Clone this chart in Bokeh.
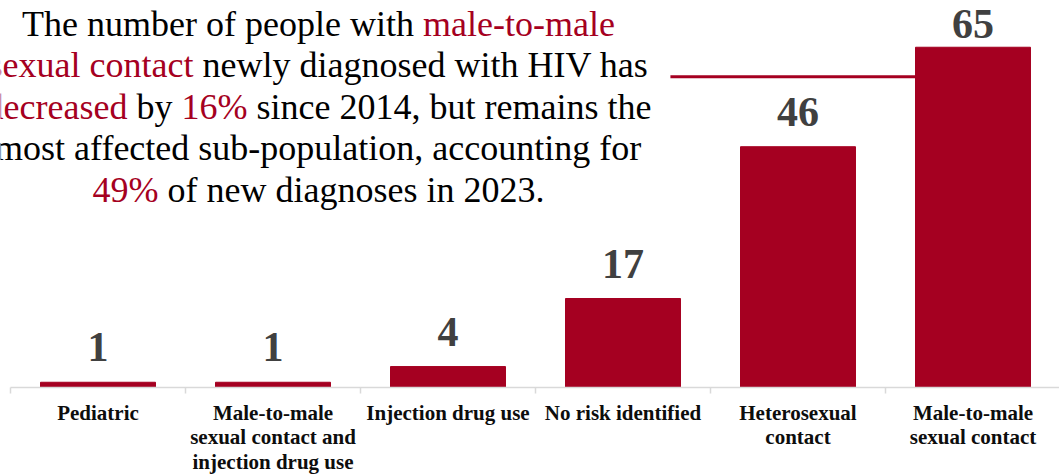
import numpy as np
from bokeh.plotting import figure
from bokeh.models import Range1d, FixedTicker, ColumnDataSource, LabelSet
from bokeh.core.properties import value
from bokeh.embed import file_html
from bokeh.resources import INLINE

# ---------------- data ----------------
categories = [
    "Pediatric",
    "Male-to-male\nsexual contact and\ninjection drug use",
    "Injection drug use",
    "No risk identified",
    "Heterosexual\ncontact",
    "Male-to-male\nsexual contact",
]
values = [1, 1, 4, 17, 46, 65]
value_labels = ["1", "1", "4", "17", "46", "65"]
callout_level = 59.36  # level of the callout line from the text to the last bar

RED = "#A50021"
BLACK = "#000000"
headline = [
    [("The number of people with ", BLACK), ("male-to-male", RED)],
    [("sexual contact", RED), (" newly diagnosed with HIV has", BLACK)],
    [("decreased", RED), (" by ", BLACK), ("16%", RED), (" since 2014, but remains the", BLACK)],
    [("most affected sub-population, accounting for", BLACK)],
    [("49%", RED), (" of new diagnoses in 2023.", BLACK)],
]

# ---------------- layout ----------------
W, H = 1059, 476
AXIS_LEFT_PX = 10
PX_PER_CAT = 175.0
FRAME_H = 389
X0 = -AXIS_LEFT_PX / PX_PER_CAT
X_END = X0 + W / PX_PER_CAT
Y_END = 73.93
PX_PER_Y = FRAME_H / Y_END

p = figure(width=W, height=H, x_range=Range1d(X0, X_END), y_range=Range1d(0, Y_END),
           output_backend="svg", toolbar_location=None, y_axis_location=None,
           min_border_left=0, min_border_right=0, min_border_top=0,
           min_border_bottom=H - FRAME_H)
p.outline_line_color = None
p.xgrid.visible = False
p.ygrid.visible = False
p.background_fill_color = "white"
p.border_fill_color = "white"

n = len(categories)
xs = np.arange(n) + 0.5
bar_w = 0.657
p.vbar(x=xs, top=values, width=bar_w, color=RED)

ax = p.xaxis[0]
ax.bounds = (0, n)
ax.ticker = FixedTicker(ticks=list(xs), minor_ticks=list(range(n + 1)))
ax.major_label_overrides = {float(x): c for x, c in zip(xs, categories)}
ax.axis_line_color = "#d9d9d9"
ax.axis_line_width = 1.5
ax.major_tick_line_color = None
ax.major_tick_out = 6
ax.major_tick_in = 0
ax.minor_tick_line_color = "#d9d9d9"
ax.minor_tick_line_width = 1.5
ax.minor_tick_out = 6
ax.minor_tick_in = 0
ax.major_label_standoff = 7
ax.major_label_text_font = "Liberation Serif"
ax.major_label_text_font_style = "bold"
ax.major_label_text_font_size = "21px"
ax.major_label_text_color = "#0d0d0d"
ax.major_label_text_line_height = 1.03

vals = np.array(values, dtype=float)
src = ColumnDataSource(dict(
    x=xs,
    label_y=np.minimum(vals + 4.0, Y_END - 7.1),
    label=value_labels,
))
p.add_layout(LabelSet(x="x", y="label_y", text="label", source=src,
                      text_align="center", text_baseline="alphabetic",
                      text_font=value("Liberation Serif"), text_font_style="bold",
                      text_font_size="42px", text_color="#404040"))

# callout line
p.segment(x0=[3.771], y0=[callout_level], x1=[xs[-1] - bar_w / 2], y1=[callout_level],
          line_color=RED, line_width=3)

# headline paragraph with mixed colours (Times metrics)
TW = {' ': 250, ',': 250, '.': 250, '-': 333, '%': 833,
      'a': 444, 'b': 500, 'c': 444, 'd': 500, 'e': 444, 'f': 333, 'g': 500, 'h': 500,
      'i': 278, 'j': 278, 'k': 500, 'l': 278, 'm': 778, 'n': 500, 'o': 500, 'p': 500,
      'q': 500, 'r': 333, 's': 389, 't': 278, 'u': 500, 'v': 500, 'w': 722, 'x': 500,
      'y': 500, 'z': 444, 'T': 611, 'H': 722, 'I': 333, 'V': 722}
for d in "0123456789":
    TW[d] = 500
FS = 36


def tw(s):
    return sum(TW.get(c, 500) for c in s) * FS / 1000.0


center_px = 308.0      # from axis start
first_base_px = 23.5   # from frame top (text anchor)
line_step = 41.75
hx, hy, ht, hc = [], [], [], []
for i, segs in enumerate(headline):
    total = sum(tw(s) for s, _ in segs)
    cur = center_px - total / 2
    base = first_base_px + i * line_step
    yv = Y_END - base / PX_PER_Y
    for s, col in segs:
        lead = len(s) - len(s.lstrip(' '))
        start = cur + tw(' ' * lead)
        hx.append(start / PX_PER_CAT)
        hy.append(yv)
        ht.append(s.strip(' '))
        hc.append(col)
        cur += tw(s)

hsrc = ColumnDataSource(dict(x=hx, y=hy, text=ht, color=hc))
p.text(x="x", y="y", text="text", text_color="color", source=hsrc,
       text_align="left", text_baseline="alphabetic",
       text_font=value("Liberation Serif"), text_font_size="36px")

open("out.html", "w").write(file_html(p, INLINE))
